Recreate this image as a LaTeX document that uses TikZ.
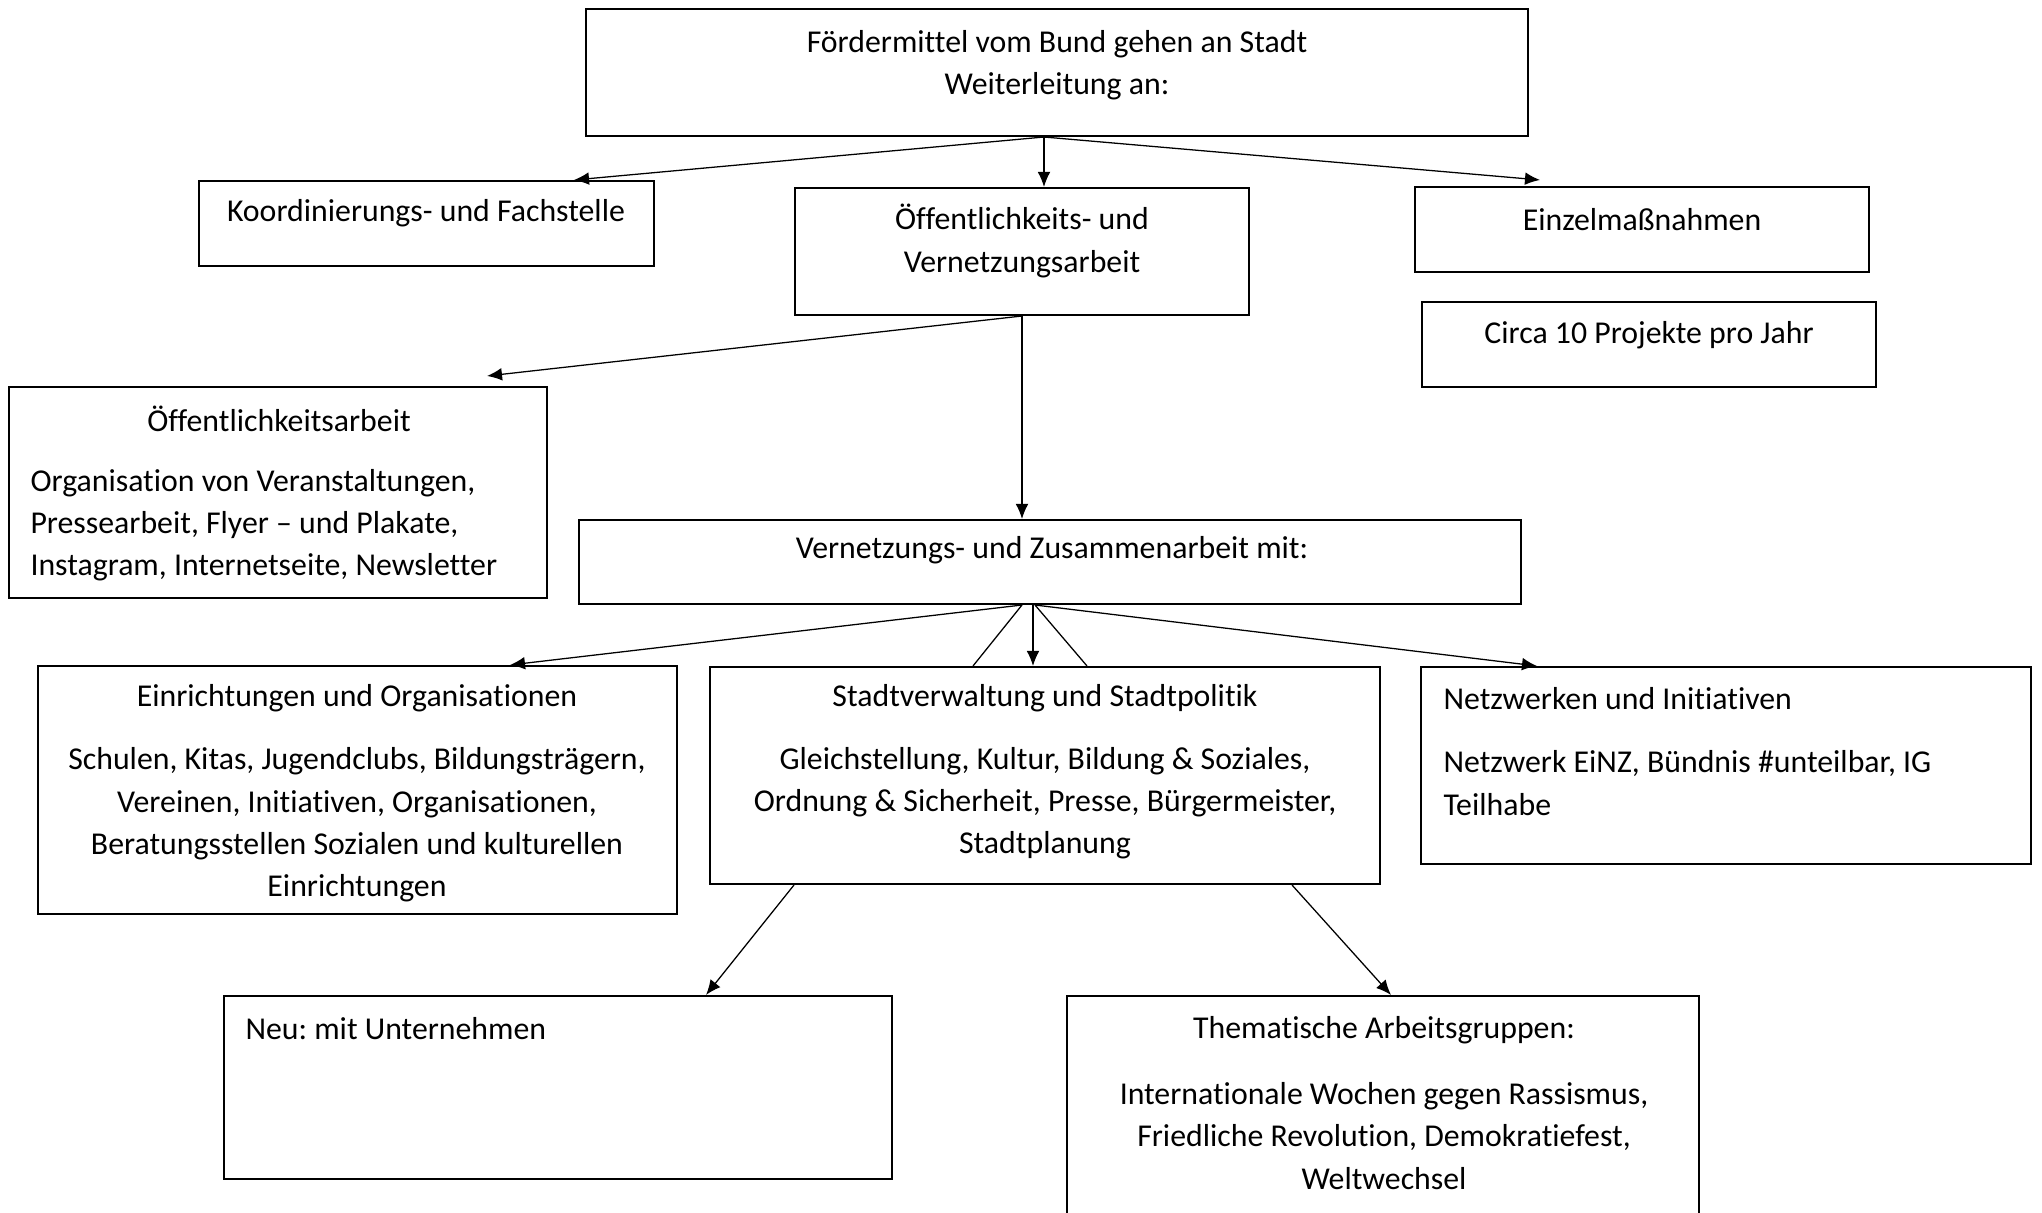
\documentclass[tikz,border=0pt]{standalone}
\usepackage{fontspec}
\setmainfont{Carlito}[Ligatures={NoCommon}]
\usetikzlibrary{positioning, fit, calc, arrows.meta}
\frenchspacing

\begin{document}
\begin{tikzpicture}[x=0.393pt, y=-0.393pt,
		font=\fontsize{12.5}{16.6}\selectfont,
		box/.style={draw, line width=0.8pt, inner sep=0pt},
		txt/.style={inner sep=0pt, align=center},
		ltxt/.style={inner sep=0pt, align=left, anchor=west},
		arr/.style={-{Latex[length=5.9pt,width=5pt]}, line width=0.5pt},
		lin/.style={line width=0.5pt}]
			\path[use as bounding box, fill=white] (0,0) rectangle (2042,1213);

			\node[box, fit={(586,9) (1528,136)}] (bund) {};
			\node[txt] (bund-txt) at (1057,65) {Fördermittel vom Bund gehen an Stadt\\Weiterleitung an:};
			\node[box, fit={(199,181) (654,266)}] (koord) {};
			\node[txt] (koord-txt) at (426,213) {Koordinierungs- und Fachstelle};
			\node[box, fit={(795,188) (1249,315)}] (oeffvern) {};
			\node[txt] (oeffvern-txt) at (1022,241) {Öffentlichkeits- und\\Vernetzungsarbeit};
			\node[box, fit={(1415,187) (1869,272)}] (einzel) {};
			\node[txt] (einzel-txt) at (1642,220) {Einzelmaßnahmen};
			\node[box, fit={(1422,302) (1876,387)}] (circa) {};
			\node[txt] (circa-txt) at (1649,335) {Circa 10 Projekte pro Jahr};

			\node[box, fit={(9,387) (547,598)}] (oeffarb) {};
			\node[txt] (oeffarb-titel) at (279,419) {Öffentlichkeitsarbeit};
			\node[ltxt] (oeffarb-txt) at (30,525) {Organisation von Veranstaltungen,\\Pressearbeit, Flyer -- und Plakate,\\Instagram, Internetseite, Newsletter};
			\node[box, fit={(579,520) (1521,604)}] (vernetz) {};
			\node[txt] (vernetz-txt) at (1052,550) {Vernetzungs- und Zusammenarbeit mit:};

			\node[box, fit={(38,666) (677,914)}] (einricht) {};
			\node[txt] (einricht-titel) at (357,698) {Einrichtungen und Organisationen};
			\node[txt] (einricht-txt) at (357,825) {Schulen, Kitas, Jugendclubs, Bildungsträgern,\\Vereinen, Initiativen, Organisationen,\\Beratungsstellen Sozialen und kulturellen\\Einrichtungen};
			\node[box, fit={(710,667) (1380,884)}] (stadt) {};
			\node[txt] (stadt-titel) at (1045,698) {Stadtverwaltung und Stadtpolitik};
			\node[txt] (stadt-txt) at (1045,803) {Gleichstellung, Kultur, Bildung \& Soziales,\\Ordnung \& Sicherheit, Presse, Bürgermeister,\\Stadtplanung};
			\node[box, fit={(1421,667) (2031,864)}] (netz) {};
			\node[ltxt] (netz-titel) at (1443,699) {Netzwerken und Initiativen};
			\node[ltxt] (netz-txt) at (1443,783) {Netzwerk EiNZ, Bündnis \#unteilbar, IG\\Teilhabe};

			\node[box, fit={(224,996) (892,1179)}] (neu) {};
			\node[ltxt] (neu-txt) at (245,1029) {Neu: mit Unternehmen};
			\node[box, fit={(1067,996) (1699,1225)}] (themat) {};
			\node[txt] (themat-titel) at (1384,1030) {Thematische Arbeitsgruppen:};
			\node[txt] (themat-txt) at (1384,1136) {Internationale Wochen gegen Rassismus,\\Friedliche Revolution, Demokratiefest,\\Weltwechsel};

			\draw[arr] (bund.south -| 1044,0) -- (koord.north -| 574,0);
			\draw[arr] (bund.south -| 1044,0) -- (oeffvern.north -| 1044,0);
			\draw[arr] (bund.south -| 1044,0) -- ($(einzel.north -| 1540,0)+(0,-6)$);
			\draw[arr] (oeffvern.south -| 1022,0) -- ($(oeffarb.north -| 487,0)+(0,-10)$);
			\draw[arr] (oeffvern.south -| 1022,0) -- (vernetz.north -| 1022,0);
			\draw[arr] (vernetz.south -| 1022,0) -- (einricht.north -| 510,0);
			\draw[lin] (vernetz.south -| 1022,0) -- (stadt.north -| 973,0);
			\draw[arr] (vernetz.south -| 1033,0) -- (stadt.north -| 1033,0);
			\draw[lin] (vernetz.south -| 1035,0) -- (stadt.north -| 1087,0);
			\draw[arr] (vernetz.south -| 1035,0) -- (netz.north -| 1537,0);
			\draw[arr] (stadt.south -| 794,0) -- (neu.north -| 706,0);
			\draw[arr] (stadt.south -| 1292,0) -- (themat.north -| 1391,0);
		\end{tikzpicture}
\end{document}
